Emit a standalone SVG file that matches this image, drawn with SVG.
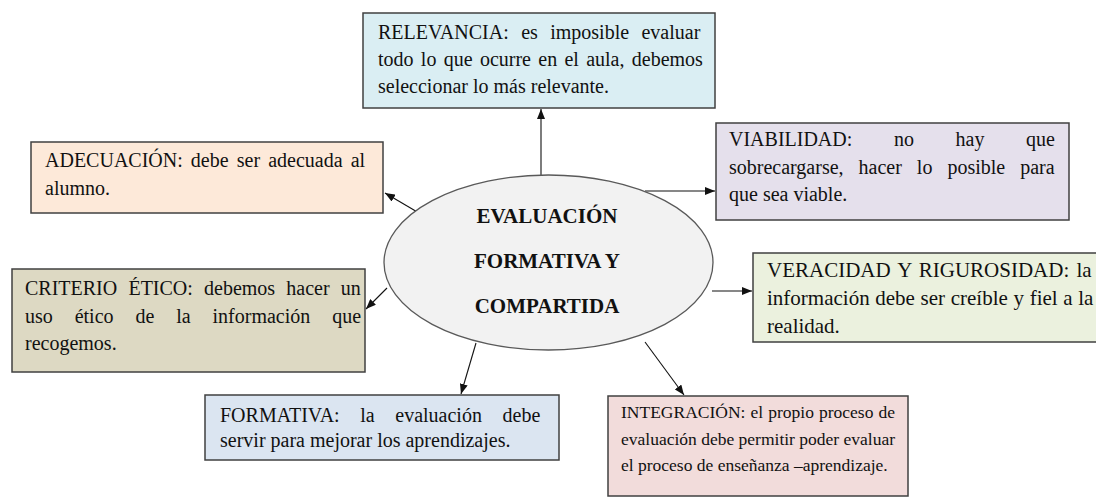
<svg xmlns="http://www.w3.org/2000/svg" width="1096" height="498" viewBox="0 0 1096 498">
<defs>
<marker id="ah" markerUnits="userSpaceOnUse" markerWidth="10" markerHeight="8" refX="10" refY="4" orient="auto">
<path d="M0,0 L10,4 L0,8 z" fill="#111"/>
</marker>
<style>
.box{stroke:#404040;stroke-width:1.5}
.t{font-family:"Liberation Serif","Times New Roman",serif;font-size:20px;fill:#111}
.b{font-family:"Liberation Serif","Times New Roman",serif;font-size:21px;font-weight:bold;fill:#111;text-anchor:middle}
.c{stroke:#111;stroke-width:1.1;fill:none;marker-end:url(#ah)}
</style>
</defs>
<rect width="1096" height="498" fill="#fff"/>
<g id="connectors">
<line class="c" x1="541" y1="175" x2="541" y2="109"/>
<line class="c" x1="419" y1="213" x2="385" y2="193"/>
<line class="c" x1="645" y1="191" x2="715" y2="191"/>
<line class="c" x1="387" y1="288" x2="366" y2="309"/>
<line class="c" x1="712" y1="291" x2="752" y2="291"/>
<line class="c" x1="476" y1="343" x2="461" y2="394"/>
<line class="c" x1="645" y1="342" x2="684" y2="395"/>
</g>
<g id="center">
<ellipse cx="548.5" cy="262.5" rx="164.5" ry="87.5" fill="#F2F2F2" stroke="#595959" stroke-width="1.3"/>
<text class="b" x="547" y="223">EVALUACIÓN</text>
<text class="b" x="547" y="268">FORMATIVA Y</text>
<text class="b" x="547" y="313">COMPARTIDA</text>
</g>
<g id="relevancia">
<rect class="box" x="363" y="13" width="352" height="95" fill="#DAEEF3"/>
<text class="t" x="378" y="39" word-spacing="7.4">RELEVANCIA: es imposible evaluar</text>
<text class="t" x="378" y="66" word-spacing="2.3">todo lo que ocurre en el aula, debemos</text>
<text class="t" x="378" y="93">seleccionar lo más relevante.</text>
</g>
<g id="adecuacion">
<rect class="box" x="31" y="142" width="352" height="71" fill="#FDE9D9"/>
<text class="t" x="45" y="167" word-spacing="3.1">ADECUACIÓN: debe ser adecuada al</text>
<text class="t" x="45" y="195">alumno.</text>
</g>
<g id="viabilidad">
<rect class="box" x="716" y="123" width="353" height="97" fill="#E5E0EC"/>
<text class="t" x="729" y="146" word-spacing="36.6">VIABILIDAD: no hay que</text>
<text class="t" x="729" y="174" word-spacing="10">sobrecargarse, hacer lo posible para</text>
<text class="t" x="729" y="201">que sea viable.</text>
</g>
<g id="criterio">
<rect class="box" x="12" y="269" width="353" height="103" fill="#DDD9C3"/>
<text class="t" x="25" y="295" word-spacing="6.2">CRITERIO ÉTICO: debemos hacer un</text>
<text class="t" x="25" y="323" word-spacing="16.9">uso ético de la información que</text>
<text class="t" x="25" y="350">recogemos.</text>
</g>
<g id="veracidad">
<rect class="box" x="753" y="253" width="350" height="89" fill="#EBF1DE"/>
<text class="t" x="767" y="277" style="font-size:21px" word-spacing="2">VERACIDAD Y RIGUROSIDAD: la</text>
<text class="t" x="767" y="305" style="font-size:21px" word-spacing="0.4">información debe ser creíble y fiel a la</text>
<text class="t" x="767" y="333" style="font-size:21px">realidad.</text>
</g>
<g id="formativa">
<rect class="box" x="205" y="395" width="354" height="65" fill="#DBE5F1"/>
<text class="t" x="220" y="422" word-spacing="15.6">FORMATIVA: la evaluación debe</text>
<text class="t" x="220" y="447">servir para mejorar los aprendizajes.</text>
</g>
<g id="integracion">
<rect class="box" x="608" y="396" width="300" height="100" fill="#F2DCDB"/>
<text class="t" x="621" y="418" style="font-size:17.5px" word-spacing="0.7">INTEGRACIÓN: el propio proceso de</text>
<text class="t" x="621" y="445" style="font-size:17.5px">evaluación debe permitir poder evaluar</text>
<text class="t" x="621" y="471" style="font-size:17.5px">el proceso de enseñanza –aprendizaje.</text>
</g>
</svg>
